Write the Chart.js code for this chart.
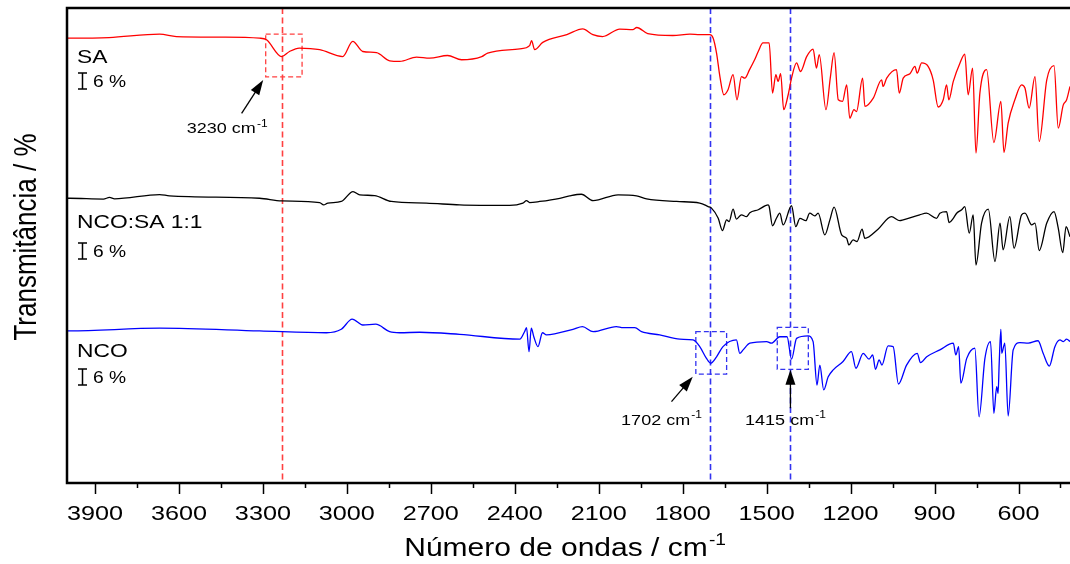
<!DOCTYPE html>
<html>
<head>
<meta charset="utf-8">
<script src="https://cdn.jsdelivr.net/npm/chart.js@4.4.1/dist/chart.umd.min.js"></script>
<style>
  html, body { margin: 0; padding: 0; background: #fff; }
</style>
</head>
<body>
<canvas id="ftir" width="1070" height="564"></canvas>
<script>
// FTIR spectra: wavenumber (cm-1) and transmittance (%)
const waveSA = [4000, 3991, 3850, 3669, 3609, 3450, 3312, 3287, 3233, 3205, 3170, 3097, 3015, 2979, 2943, 2894, 2847, 2811,
  2751, 2704, 2640, 2590, 2518, 2497, 2382, 2347, 2340, 2329, 2300, 2214, 2157, 2121, 2086, 2025, 1978, 1964, 1925, 1835,
  1774, 1739, 1703, 1691, 1679, 1667, 1653, 1638, 1620, 1606, 1590, 1578, 1561, 1543, 1530, 1513, 1491, 1479, 1467, 1459,
  1450, 1439, 1423, 1411, 1393, 1379, 1357, 1334, 1322, 1312, 1288, 1272, 1259, 1244, 1229, 1214, 1203, 1188, 1179, 1157,
  1149, 1119, 1089, 1084, 1071, 1036, 1026, 1012, 988, 970, 962, 946, 923, 905, 887, 869, 857, 849, 833, 809, 792, 780,
  764, 752, 738, 714, 688, 663, 652, 637, 613, 589, 577, 562, 541, 526, 499, 473, 458, 440, 428, 416];
const transSA = [92.7, 92.7, 92.9, 94.2, 93.3, 93.1, 92.7, 92.1, 85.8, 87.7, 89.0, 88.4, 85.8, 91.5, 87.7, 87.3, 84.2, 84.0,
  85.6, 85.2, 86.2, 84.6, 85.8, 87.1, 88.7, 89.9, 91.8, 88.4, 91.1, 94.0, 96.2, 94.0, 93.3, 96.1, 95.9, 96.7, 94.4, 93.7,
  94.2, 94.0, 94.0, 92.7, 87.1, 78.3, 71.5, 73.4, 79.0, 69.6, 78.3, 77.7, 80.9, 84.6, 87.7, 90.9, 90.9, 72.1, 79.0, 76.5,
  79.4, 65.9, 71.5, 77.7, 83.4, 80.2, 85.8, 88.6, 81.5, 86.5, 65.9, 78.3, 87.3, 69.6, 69.0, 75.2, 62.7, 65.9, 65.2, 77.7,
  67.1, 70.2, 77.1, 74.6, 77.7, 80.9, 72.1, 77.7, 79.4, 82.1, 79.6, 83.4, 82.1, 77.1, 66.9, 69.6, 75.2, 69.6, 76.5, 83.4, 86.7, 71.5,
  81.5, 49.6, 72.1, 80.9, 53.6, 69.0, 49.9, 60.9, 69.6, 75.2, 74.0, 66.5, 78.3, 54.0, 77.1, 82.4, 59.0, 67.7, 69.6, 74.6];

const waveMix = [4000, 3991, 3870, 3848, 3830, 3669, 3634, 3312, 3233, 3097, 3083, 3068, 3020, 2978, 2954, 2901, 2841, 2716,
  2597, 2418, 2371, 2358, 2347, 2311, 2239, 2204, 2162, 2120, 2031, 1965, 1929, 1822, 1739, 1709, 1697, 1673, 1658, 1643,
  1634, 1620, 1608, 1590, 1572, 1560, 1530, 1495, 1491, 1479, 1465, 1453, 1441, 1411, 1396, 1381, 1360, 1346, 1328, 1316,
  1292, 1274, 1259, 1232, 1214, 1206, 1191, 1177, 1159, 1149, 1102, 1054, 1024, 1012, 953, 929, 893, 881, 857, 848, 833,
  821, 803, 792, 776, 762, 752, 732, 708, 684, 666, 655, 631, 616, 589, 577, 553, 541, 526, 499, 473, 458, 442, 430, 416];
const transMix = [94.7, 94.7, 94.4, 95.0, 94.5, 96.1, 95.6, 94.7, 93.7, 93.1, 92.2, 92.9, 93.5, 97.2, 96.0, 95.7, 93.5, 92.9,
  92.2, 92.0, 92.9, 93.8, 93.1, 93.5, 94.7, 95.6, 96.2, 93.8, 96.0, 95.6, 94.5, 93.5, 92.9, 91.6, 91.0, 87.2, 82.6, 86.6,
  86.0, 90.6, 86.9, 88.5, 87.8, 89.3, 90.4, 92.2, 91.6, 84.4, 87.2, 89.1, 84.7, 91.9, 84.1, 87.2, 86.3, 89.1, 88.1, 89.1,
  81.0, 86.6, 91.4, 81.0, 79.7, 77.2, 79.1, 78.5, 83.1, 79.7, 83.1, 87.8, 86.3, 86.6, 88.5, 89.1, 87.2, 89.1, 89.7, 85.6, 87.2,
  89.1, 90.4, 91.6, 81.6, 88.5, 69.7, 85.4, 90.6, 71.0, 85.4, 75.4, 87.8, 76.0, 88.5, 89.1, 84.7, 85.4, 75.1, 85.4, 89.7, 83.5, 74.3, 84.1, 80.3];

const waveNCO = [4000, 3991, 3669, 3312, 3073, 3020, 2981, 2943, 2897, 2847, 2811, 2740, 2597, 2382, 2365, 2358, 2349, 2341,
  2332, 2317, 2301, 2287, 2192, 2158, 2120, 2037, 2013, 1971, 1947, 1882, 1810, 1763, 1739, 1715, 1700, 1679, 1656, 1608,
  1596, 1584, 1560, 1500, 1483, 1453, 1427, 1411, 1393, 1352, 1334, 1320, 1310, 1296, 1280, 1262, 1227, 1197, 1181, 1155,
  1134, 1121, 1111, 1098, 1088, 1066, 1048, 1029, 1000, 962, 950, 928, 881, 833, 824, 814, 806, 785, 756, 741, 720, 700,
  688, 678, 673, 669, 663, 660, 649, 637, 619, 595, 565, 530, 512, 490, 470, 452, 440, 428, 416];
const transNCO = [94.0, 94.0, 95.0, 94.0, 93.3, 94.6, 98.4, 96.2, 96.5, 93.7, 93.3, 93.5, 92.7, 90.9, 93.7, 95.2, 86.2, 95.0,
  91.8, 88.1, 93.3, 92.5, 94.6, 95.6, 93.7, 95.6, 95.2, 95.2, 93.7, 92.5, 90.9, 90.6, 88.1, 83.7, 81.9, 84.3, 88.1, 90.6,
  85.6, 86.9, 89.4, 90.0, 89.4, 91.8, 91.8, 83.4, 91.2, 92.1, 90.0, 73.7, 81.2, 71.9, 76.8, 79.4, 82.5, 86.2, 80.0, 85.6,
  83.4, 85.0, 79.6, 83.1, 81.2, 88.4, 88.1, 74.1, 81.2, 85.6, 82.1, 84.3, 86.9, 89.4, 85.0, 88.1, 74.4, 83.7, 87.5, 61.8, 83.7, 90.0,
  63.1, 73.1, 70.6, 81.9, 94.6, 85.6, 89.4, 62.1, 86.9, 89.6, 89.4, 90.3, 85.6, 80.8, 88.1, 90.6, 90.0, 90.9, 90.0];

const seriesNames = ['SA', 'NCO:SA 1:1', 'NCO'];
const seriesColors = ['#ff0000', '#000000', '#0000ff'];
const offsets = [74, 12, -37];   // vertical shift used to stack the spectra
const xTicks = [3900, 3600, 3300, 3000, 2700, 2400, 2100, 1800, 1500, 1200, 900, 600];
const bandLabels = ['3230', '1702', '1415'];
const bands = [3230, 1702, 1415];

const FONT = '"Liberation Sans", Arial, sans-serif';
const SX = 1.2; // the figure's text is stretched sideways

function toPoints(waves, trans, off) {
  return waves.map((w, i) => ({ x: w, y: trans[i] + off }));
}

function wideText(ctx, txt, x, y, size, align) {
  ctx.save();
  ctx.font = size + 'px ' + FONT;
  const w = ctx.measureText(txt).width * SX;
  const x0 = align === 'center' ? x - w / 2 : x;
  ctx.translate(x0, y);
  ctx.scale(SX, 1);
  ctx.textAlign = 'left';
  ctx.fillText(txt, 0, 0);
  ctx.restore();
}

function textSup(ctx, base, sup, x, y, size, align) {
  ctx.save();
  const supSize = Math.round(size * 0.65);
  ctx.font = size + 'px ' + FONT;
  const wBase = ctx.measureText(base).width;
  ctx.font = supSize + 'px ' + FONT;
  const wSup = ctx.measureText(sup).width;
  const total = (wBase + wSup) * SX;
  const x0 = align === 'center' ? x - total / 2 : x;
  ctx.translate(x0, y);
  ctx.scale(SX, 1);
  ctx.font = size + 'px ' + FONT;
  ctx.fillText(base, 0, 0);
  ctx.font = supSize + 'px ' + FONT;
  ctx.fillText(sup, wBase + 1, -size * 0.45);
  ctx.restore();
}

function arrow(ctx, x1, y1, x2, y2) {
  const a = Math.atan2(y2 - y1, x2 - x1);
  const head = 15, half = 5;
  ctx.beginPath();
  ctx.moveTo(x1, y1);
  ctx.lineTo(x2 - head * 0.8 * Math.cos(a), y2 - head * 0.8 * Math.sin(a));
  ctx.stroke();
  ctx.beginPath();
  ctx.moveTo(x2, y2);
  ctx.lineTo(x2 - head * Math.cos(a) + half * Math.sin(a), y2 - head * Math.sin(a) - half * Math.cos(a));
  ctx.lineTo(x2 - head * Math.cos(a) - half * Math.sin(a), y2 - head * Math.sin(a) + half * Math.cos(a));
  ctx.closePath();
  ctx.fill();
}

// dashed marker lines and boxes, under the spectra
const markers = {
  id: 'markers',
  beforeDatasetsDraw(chart) {
    const { ctx, chartArea: ca, scales: { x: xs, y: ys } } = chart;
    ctx.save();
    ctx.lineWidth = 1.6;
    ctx.setLineDash([6, 3.5]);
    bands.forEach((b, i) => {
      ctx.strokeStyle = i === 0 ? '#ff4040' : '#3333f0';
      const px = Math.round(xs.getPixelForValue(b)) + 0.5;
      ctx.beginPath();
      ctx.moveTo(px, ca.top);
      ctx.lineTo(px, ca.bottom);
      ctx.stroke();
    });
    // boxes around the marked bands (wavenumber range, transmittance range on the stacked axis)
    const boxes = [
      { x1: 3290, x2: 3160, y1: 152.2, y2: 168.2, c: '#ff4040' },
      { x1: 1753, x2: 1643, y1: 40.8, y2: 56.7, c: '#3333f0' },
      { x1: 1462, x2: 1351, y1: 42.6, y2: 58.3, c: '#3333f0' }
    ];
    ctx.lineWidth = 1.3;
    ctx.setLineDash([5, 3]);
    boxes.forEach(b => {
      ctx.strokeStyle = b.c;
      const l = xs.getPixelForValue(b.x1), r = xs.getPixelForValue(b.x2);
      const t = ys.getPixelForValue(b.y2), bt = ys.getPixelForValue(b.y1);
      ctx.strokeRect(l, t, r - l, bt - t);
    });
    ctx.restore();
  },
  afterDraw(chart) {
    const { ctx, chartArea: ca, scales: { x: xs, y: ys } } = chart;
    ctx.save();
    ctx.fillStyle = '#000';
    ctx.strokeStyle = '#000';

    // frame: left, top and bottom axis lines
    ctx.lineWidth = 2.5;
    ctx.beginPath();
    ctx.moveTo(ca.right, ca.top);
    ctx.lineTo(ca.left, ca.top);
    ctx.lineTo(ca.left, ca.bottom);
    ctx.lineTo(ca.right, ca.bottom);
    ctx.stroke();

    // x tick marks: major every 300, minor halfway
    ctx.lineWidth = 1.5;
    for (let v = 450; v <= 3900; v += 150) {
      const px = Math.round(xs.getPixelForValue(v)) + 0.5;
      const len = v % 300 === 0 ? 11 : 5;
      ctx.beginPath();
      ctx.moveTo(px, ca.bottom);
      ctx.lineTo(px, ca.bottom + len);
      ctx.stroke();
    }
    xTicks.forEach(v => wideText(ctx, String(v), xs.getPixelForValue(v), 520, 21, 'center'));

    // axis titles
    textSup(ctx, 'Número de ondas / cm', '-1', (ca.left + ca.right) / 2 - 4, 556, 25, 'center');
    ctx.save();
    ctx.translate(36, 237);
    ctx.scale(SX, 1);
    ctx.rotate(-Math.PI / 2);
    ctx.font = '26px ' + FONT;
    ctx.textAlign = 'center';
    ctx.fillText('Transmitância / %', 0, 0);
    ctx.restore();

    // spectrum names and 6 % scale bars
    const labelY = [63, 228, 357];
    const barTop = [73, 243, 369];
    const barLen = ys.getPixelForValue(0) - ys.getPixelForValue(6);
    ctx.lineWidth = 1.5;
    seriesNames.forEach((n, i) => {
      wideText(ctx, n, 77, labelY[i], 19, 'left');
      const bx = 82.5, t = barTop[i], b = t + barLen;
      ctx.beginPath();
      ctx.moveTo(bx, t); ctx.lineTo(bx, b);
      ctx.moveTo(bx - 4.5, t); ctx.lineTo(bx + 4.5, t);
      ctx.moveTo(bx - 4.5, b); ctx.lineTo(bx + 4.5, b);
      ctx.stroke();
      wideText(ctx, '6 %', 93, t + 14, 16, 'left');
    });

    // band annotations with arrows
    ctx.lineWidth = 1.3;
    const notes = [
      { tail: [3376, 138.5], tip: [3299, 151], text: [3572, 131.0] },
      { tail: [1840, 30.5], tip: [1764, 39.8], text: [2020, 21.7] },
      { tail: [1415, 28.0], tip: [1415, 42.4], text: [1577, 21.7] }
    ];
    notes.forEach((n, i) => {
      arrow(ctx, xs.getPixelForValue(n.tail[0]), ys.getPixelForValue(n.tail[1]),
        xs.getPixelForValue(n.tip[0]), ys.getPixelForValue(n.tip[1]));
      textSup(ctx, bandLabels[i] + ' cm', '-1', xs.getPixelForValue(n.text[0]), ys.getPixelForValue(n.text[1]), 15, 'left');
    });
    ctx.restore();
  }
};

new Chart(document.getElementById('ftir'), {
  type: 'line',
  data: {
    datasets: [
      { label: seriesNames[0], data: toPoints(waveSA, transSA, offsets[0]), borderColor: seriesColors[0] },
      { label: seriesNames[1], data: toPoints(waveMix, transMix, offsets[1]), borderColor: seriesColors[1] },
      { label: seriesNames[2], data: toPoints(waveNCO, transNCO, offsets[2]), borderColor: seriesColors[2] }
    ]
  },
  options: {
    responsive: false,
    animation: false,
    devicePixelRatio: 1,
    layout: { padding: { left: 67, right: 0, top: 8, bottom: 81 } },
    elements: {
      point: { radius: 0 },
      line: { borderWidth: 1.3, cubicInterpolationMode: 'monotone', fill: false }
    },
    scales: {
      x: { type: 'linear', reverse: true, min: 416, max: 4000, display: false },
      y: { min: 0, max: 178, display: false }
    },
    plugins: { legend: { display: false }, tooltip: { enabled: false } }
  },
  plugins: [markers]
});
</script>
</body>
</html>
